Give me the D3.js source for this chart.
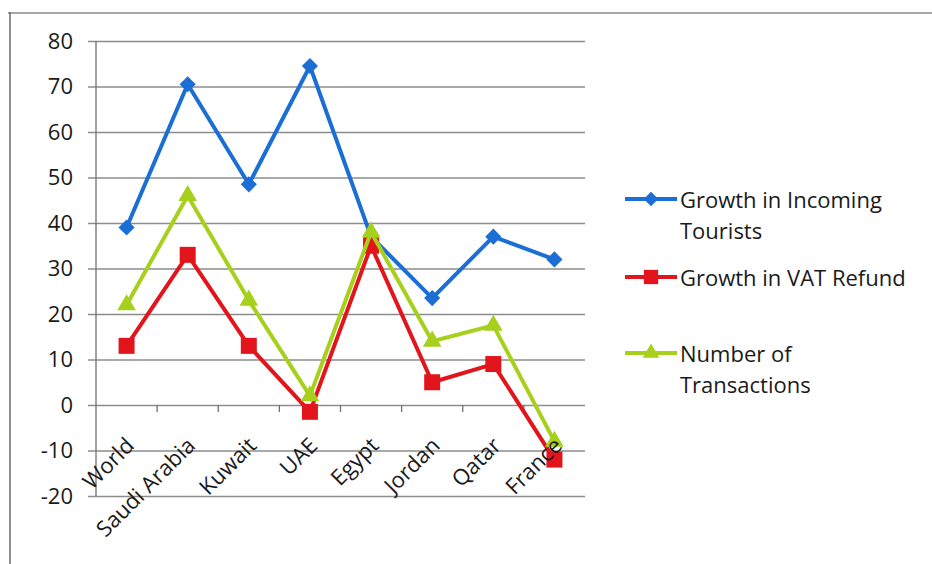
<!DOCTYPE html>
<html>
<head>
<meta charset="utf-8">
<script src="https://cdn.jsdelivr.net/npm/d3@7"></script>
<style>
  html, body { margin: 0; padding: 0; background: #fff; }
  svg { display: block; font-family: "Open Sans", Lato, sans-serif; }
</style>
</head>
<body>
<svg id="chart" width="932" height="564"></svg>
<script>
// Categories and series
const categories = ["World", "Saudi Arabia", "Kuwait", "UAE", "Egypt", "Jordan", "Qatar", "France"];
const tourists = [39, 70.5, 48.5, 74.5, 37, 23.5, 37, 32];
const vatRefund = [13, 33, 13, -1.5, 35, 5, 9, -12];
const transactions = [22, 46, 23, 2, 38, 14, 17.5, -8];
const yTicks = [80, 70, 60, 50, 40, 30, 20, 10, 0, -10, -20];

const series = [
  { name: ["Growth in Incoming", "Tourists"], values: tourists, color: "#1b6fd4", marker: "diamond" },
  { name: ["Growth in VAT Refund"], values: vatRefund, color: "#e2141c", marker: "square" },
  { name: ["Number of", "Transactions"], values: transactions, color: "#a6d01c", marker: "triangle" }
];

const svg = d3.select("#chart");
const plot = { left: 96, right: 585, top: 41, bottom: 496 };
const fontSize = 22;

const x = d3.scaleBand().domain(categories).range([plot.left, plot.right]);
const y = d3.scaleLinear().domain([-20, 80]).range([plot.bottom, plot.top]);

// Outer frame (top and left edges)
svg.append("line").attr("x1", 8).attr("x2", 932).attr("y1", 13).attr("y2", 13)
  .attr("stroke", "#8a8a8a").attr("stroke-width", 1.5);
svg.append("line").attr("x1", 10).attr("x2", 10).attr("y1", 12).attr("y2", 564)
  .attr("stroke", "#6a6a6a").attr("stroke-width", 1.5);

// Horizontal gridlines with y axis labels
const yAxis = d3.axisLeft(y).tickValues(yTicks)
  .tickSize(-(plot.right - plot.left + 8)).tickPadding(15)
  .tickFormat(d => String(d));
const gy = svg.append("g").attr("transform", `translate(${plot.left - 8},0)`).call(yAxis);
gy.select(".domain").remove();
gy.selectAll(".tick line").attr("stroke", "#8c8c8c").attr("stroke-width", 1.3);
gy.selectAll(".tick text").attr("fill", "#1a1a1a").attr("font-size", fontSize)
  .attr("font-family", "'Open Sans', sans-serif");

// Vertical axis line
svg.append("line").attr("x1", plot.left).attr("x2", plot.left)
  .attr("y1", plot.top).attr("y2", plot.bottom)
  .attr("stroke", "#707070").attr("stroke-width", 1.3);

// Category axis ticks, crossing at zero
const x0 = y(0);
const bounds = categories.map(c => x(c)).concat([plot.right]);
svg.append("g").selectAll("line").data(bounds.slice(1, -1)).join("line")
  .attr("x1", d => d).attr("x2", d => d)
  .attr("y1", x0).attr("y2", x0 + 7)
  .attr("stroke", "#707070").attr("stroke-width", 1.3);

// Series lines and markers
const cx = i => x(categories[i]) + x.bandwidth() / 2;
const line = d3.line().x((d, i) => cx(i)).y(d => y(d));

const symbols = {
  diamond: { type: d3.symbolSquare, size: 130, rotate: 45 },
  square: { type: d3.symbolSquare, size: 256, rotate: 0 },
  triangle: { type: d3.symbolTriangle, size: 150, rotate: 0 }
};

series.forEach(s => {
  const sym = symbols[s.marker];
  svg.append("path").datum(s.values)
    .attr("d", line)
    .attr("fill", "none")
    .attr("stroke", s.color)
    .attr("stroke-width", 4)
    .attr("stroke-linejoin", "round");
  svg.append("g").selectAll("path").data(s.values).join("path")
    .attr("transform", (d, i) => `translate(${cx(i)},${y(d)}) rotate(${sym.rotate})`)
    .attr("d", d3.symbol().type(sym.type).size(sym.size))
    .attr("fill", s.color);
});

// Category labels, drawn above the series
svg.append("g").selectAll("text").data(categories).join("text")
  .attr("transform", d => `translate(${x(d) + x.bandwidth() / 2 + 9},${x0 + 42}) rotate(-45)`)
  .attr("text-anchor", "end")
  .attr("fill", "#1a1a1a")
  .attr("font-size", fontSize)
  .text(d => d);

// Legend
const legendRows = [199, 277, 353];
series.forEach((s, k) => {
  const sym = symbols[s.marker];
  const g = svg.append("g").attr("transform", `translate(625,${legendRows[k]})`);
  g.append("line").attr("x1", 0).attr("x2", 52).attr("y1", 0).attr("y2", 0)
    .attr("stroke", s.color).attr("stroke-width", 4);
  g.append("path").attr("transform", `translate(26,0) rotate(${sym.rotate})`)
    .attr("d", d3.symbol().type(sym.type).size(sym.size * 0.8))
    .attr("fill", s.color);
  s.name.forEach((t, j) => {
    g.append("text").attr("x", 55).attr("y", 9 + j * 31)
      .attr("fill", "#1a1a1a").attr("font-size", fontSize).text(t);
  });
});
</script>
</body>
</html>
